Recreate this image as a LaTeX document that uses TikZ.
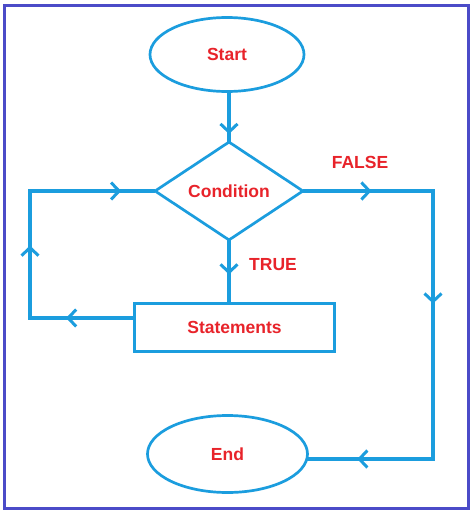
\documentclass[tikz,border=0pt]{standalone}
\usepackage{fontspec}
\setmainfont{Liberation Sans}
\usetikzlibrary{shapes.geometric,arrows.meta,calc}
\definecolor{flowblue}{HTML}{1B9DDE}
\definecolor{txtred}{HTML}{E8232A}
\definecolor{frameblue}{HTML}{4B4BC8}
\tikzset{
  lbl/.style={text=txtred,font=\bfseries\fontsize{17.5}{20}\selectfont},
  shp/.style={draw=flowblue,line width=2.7pt,lbl,inner sep=0pt,fill=white},
  connline/.style={draw=flowblue,line width=3.05pt,line cap=rect},
  tipline/.style={draw=flowblue,line width=3.05pt,-{Straight Barb[length=8pt,width=17pt,line width=3pt]}}
}
\begin{document}
\begin{tikzpicture}[x=1pt,y=-1pt]
\useasboundingbox (0,0) rectangle (474,514);
\fill[white] (0,0) rectangle (474,514);
\draw[frameblue,line width=3pt] (4.5,5.5) rectangle (468.5,508.5);

\coordinate (fr) at (433,191);
\coordinate (br) at (433,459);
\coordinate (bl) at (30,318);
\coordinate (tl) at (30,191);

\node[shp,ellipse,minimum width=154pt,minimum height=74pt] (start) at (227,54.5) {Start};
\node[shp,diamond,aspect=1.5,minimum width=149pt,minimum height=99pt] (cond) at (229,191) {Condition};
\node[shp,rectangle,minimum width=200pt,minimum height=48pt] (stat) at (234.5,327.5) {Statements};
\node[shp,ellipse,minimum width=160pt,minimum height=77pt] (end) at (227.5,454) {End};

\node[lbl] (false) at (360,162) {FALSE};
\node[lbl] (true) at (273,265) {TRUE};

\coordinate (sl) at ([yshift=9.5pt]stat.west);
\coordinate (sb) at (start.south -| cond.north);
\coordinate (st) at (stat.north -| cond.south);
\coordinate (ee) at (br -| end.east);

% connectors
\draw[connline] (sb) -- (cond.north);
\draw[connline] (cond.east) -- (fr) -- (br) -- (ee);
\draw[connline] (cond.south) -- (st);
\draw[connline] (sl) -- (bl) -- (tl) -- (cond.west);
% arrow heads
\draw[tipline] (sb) -- ($(sb)!0.87!(cond.north)$);
\draw[tipline] (cond.east) -- ($(cond.east)!0.52!(fr)$);
\draw[tipline] (fr) -- ($(fr)!0.42!(br)$);
\draw[tipline] (br) -- ($(br)!0.61!(ee)$);
\draw[tipline] (cond.south) -- ($(cond.south)!0.54!(st)$);
\draw[tipline] (sl) -- ($(sl)!0.65!(bl)$);
\draw[tipline] (bl) -- ($(bl)!0.57!(tl)$);
\draw[tipline] (tl) -- ($(tl)!0.74!(cond.west)$);
\end{tikzpicture}
\end{document}
